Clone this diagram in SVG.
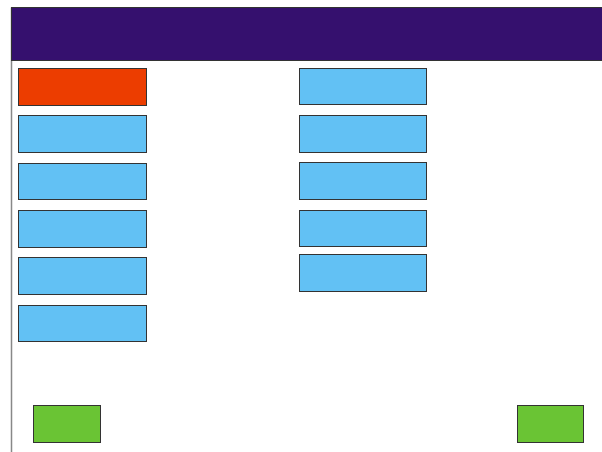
<svg xmlns="http://www.w3.org/2000/svg" width="602" height="452" viewBox="0 0 602 452">
<style>
.n{stroke:#333;stroke-width:1}
.b{fill:#62c1f4}
.o{fill:#ec3d00}
.g{fill:#6ac434}
</style>
<rect width="602" height="452" fill="#fff"/>
<g id="frame">
<line x1="11.5" y1="7.5" x2="11.5" y2="452" stroke="#888" stroke-width="1.5"/>
<rect x="11.5" y="7.5" width="592" height="53" fill="#35106e" stroke="#333" stroke-width="1"/>
</g>
<g id="connectors"></g>
<g id="l1"><rect class="n o" x="18.5" y="68.5" width="128" height="37"/></g>
<g id="l2"><rect class="n b" x="18.5" y="115.5" width="128" height="37"/></g>
<g id="l3"><rect class="n b" x="18.5" y="163.5" width="128" height="36"/></g>
<g id="l4"><rect class="n b" x="18.5" y="210.5" width="128" height="37"/></g>
<g id="l5"><rect class="n b" x="18.5" y="257.5" width="128" height="37"/></g>
<g id="l6"><rect class="n b" x="18.5" y="305.5" width="128" height="36"/></g>
<g id="r1"><rect class="n b" x="299.5" y="68.5" width="127" height="36"/></g>
<g id="r2"><rect class="n b" x="299.5" y="115.5" width="127" height="37"/></g>
<g id="r3"><rect class="n b" x="299.5" y="162.5" width="127" height="37"/></g>
<g id="r4"><rect class="n b" x="299.5" y="210.5" width="127" height="36"/></g>
<g id="r5"><rect class="n b" x="299.5" y="254.5" width="127" height="37"/></g>
<g id="g1"><rect class="n g" x="33.5" y="405.5" width="67" height="37"/></g>
<g id="g2"><rect class="n g" x="517.5" y="405.5" width="66" height="37"/></g>
</svg>
